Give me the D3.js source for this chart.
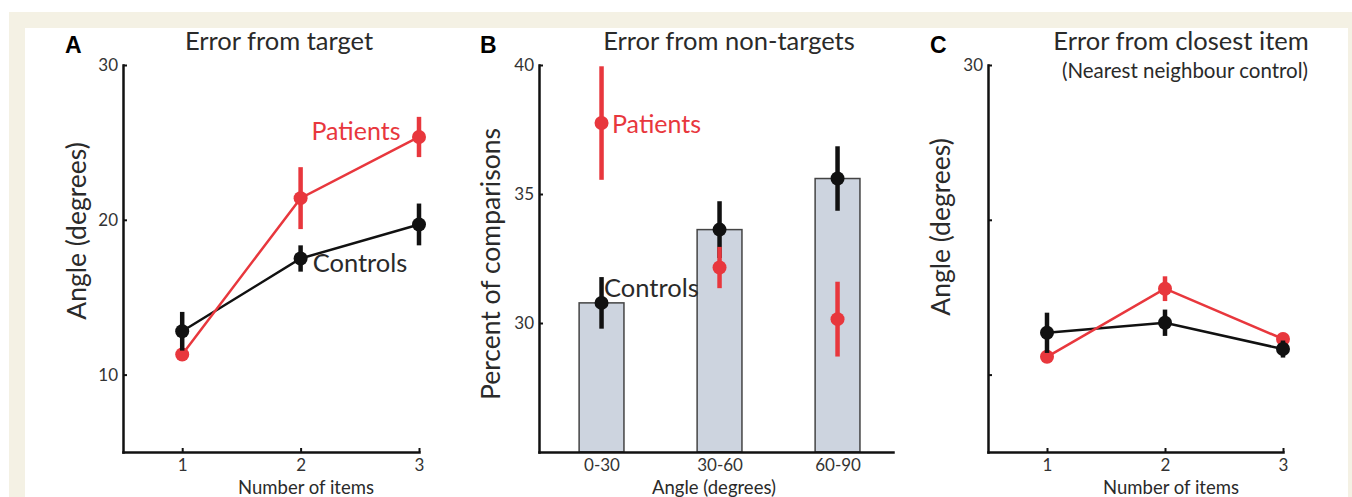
<!DOCTYPE html>
<html>
<head>
<meta charset="utf-8">
<script src="https://cdnjs.cloudflare.com/ajax/libs/d3/7.8.5/d3.min.js"></script>
<style>
  body { margin: 0; background: #fff; }
  svg text { font-family: Lato, "Open Sans", sans-serif; fill: #2a2a2a; }
</style>
</head>
<body>
<div id="chart"></div>
<script>
// Panel A - error from target
var itemCounts = [1, 2, 3];
var targetControls = [12.8, 17.5, 19.7];
var targetControlsErr = [1.25, 0.85, 1.35];
var targetPatients = [11.3, 21.4, 25.35];
var targetPatientsErr = [0.3, 2.0, 1.3];
var targetTicks = [10, 20, 30];

// Panel B - error from non-targets (percent of comparisons)
var angleBins = ["0-30", "30-60", "60-90"];
var nonTargetControls = [30.78, 33.62, 35.6];
var nonTargetControlsErr = [1.0, 1.1, 1.25];
var nonTargetPatients = [37.75, 32.15, 30.15];
var nonTargetPatientsErr = [2.2, 0.8, 1.45];
var nonTargetTicks = [30, 35, 40];

// Panel C - error from closest item
var closestControls = [12.7, 13.35, 11.65];
var closestControlsErr = [1.3, 0.85, 0.55];
var closestPatients = [11.15, 15.55, 12.3];
var closestPatientsErr = [0.3, 0.8, 0.4];
var closestTicks = [10, 20, 30];

var w = 1352;
var h = 497;
var red = "#e8373d";
var black = "#111";
var axisTop = 65;
var axisBottom = 452;

var svg = d3.select("#chart")
  .append("svg")
  .attr("width", w)
  .attr("height", h);

// cream frame round the figure
svg.append("rect").attr("x", 9).attr("y", 12).attr("width", w - 9).attr("height", h - 12).attr("fill", "#f4f1e4");
svg.append("rect").attr("x", 25).attr("y", 28).attr("width", 1323).attr("height", h - 28).attr("fill", "#fff");

function styleAxis(g) {
  g.select(".domain").attr("stroke", black).attr("stroke-width", 2.5).attr("stroke-linecap", "square");
  g.selectAll(".tick line").attr("stroke", black).attr("stroke-width", 2);
  g.selectAll(".tick text").attr("font-size", 17).style("fill", "#333");
}

function drawAxes(xScale, yScale, yTicks, yFormat, xTicks, xFormat, xTickSize) {
  var xAxis = d3.axisBottom(xScale)
    .tickValues(xTicks)
    .tickFormat(xFormat)
    .tickSizeInner(xTickSize)
    .tickSizeOuter(0)
    .tickPadding(7);
  var yAxis = d3.axisLeft(yScale)
    .tickValues(yTicks)
    .tickFormat(yFormat)
    .tickSizeInner(-4)
    .tickSizeOuter(0)
    .tickPadding(5);

  svg.append("g")
    .attr("transform", "translate(0," + axisBottom + ")")
    .call(xAxis)
    .call(styleAxis);
  svg.append("g")
    .attr("transform", "translate(" + xScale.range()[0] + ",0)")
    .call(yAxis)
    .call(styleAxis);
}

function drawSeries(xs, values, xScale, yScale, color) {
  var pts = values.map(function (v, i) {
    return { x: xs[i], y: v };
  });
  var g = svg.append("g");
  g.append("path")
    .datum(pts)
    .attr("fill", "none")
    .attr("stroke", color)
    .attr("stroke-width", 2.5)
    .attr("d", d3.line()
      .x(function (d) { return xScale(d.x); })
      .y(function (d) { return yScale(d.y); }));
  return g;
}

function drawMarkers(g, xs, values, errs, xScale, yScale, color) {
  var pts = values.map(function (v, i) {
    return { x: xs[i], y: v, e: errs[i] };
  });
  g.selectAll("line.err")
    .data(pts)
    .enter()
    .append("line")
    .attr("class", "err")
    .attr("x1", function (d) { return xScale(d.x); })
    .attr("x2", function (d) { return xScale(d.x); })
    .attr("y1", function (d) { return yScale(d.y - d.e); })
    .attr("y2", function (d) { return yScale(d.y + d.e); })
    .attr("stroke", color)
    .attr("stroke-width", 4.5);
  g.selectAll("circle")
    .data(pts)
    .enter()
    .append("circle")
    .attr("cx", function (d) { return xScale(d.x); })
    .attr("cy", function (d) { return yScale(d.y); })
    .attr("r", 7)
    .attr("fill", color);
}

function addText(x, y, str, size, opts) {
  opts = opts || {};
  var t = svg.append("text")
    .attr("x", x)
    .attr("y", y)
    .attr("font-size", size)
    .attr("text-anchor", opts.anchor || "middle")
    .text(str);
  if (opts.fill) t.style("fill", opts.fill);
  if (opts.bold) t.attr("font-weight", "bold").style("font-family", "'Liberation Sans', Arial, sans-serif").style("fill", "#000");
  if (opts.rotate) t.attr("transform", "rotate(-90," + x + "," + y + ")");
  return t;
}

// ---------- Panel A ----------
var xA = d3.scaleLinear().domain([0.5, 3]).range([123, 419]);
var yA = d3.scaleLinear().domain([5, 30]).range([axisBottom, axisTop]);
drawAxes(xA, yA, targetTicks, d3.format("d"), itemCounts, d3.format("d"), -4);

drawSeries(itemCounts, targetControls, xA, yA, black);
var gA2 = drawSeries(itemCounts, targetPatients, xA, yA, red);
drawMarkers(gA2, itemCounts, targetPatients, targetPatientsErr, xA, yA, red);
drawMarkers(svg.append("g"), itemCounts, targetControls, targetControlsErr, xA, yA, black);

addText(65, 53, "A", 23, { anchor: "start", bold: true });
addText(279, 50, "Error from target", 25.5);
addText(306, 494, "Number of items", 18.5);
addText(86, 231, "Angle (degrees)", 26.5, { rotate: true });
addText(356, 140, "Patients", 25, { fill: red });
addText(360, 272, "Controls", 25.5);

// ---------- Panel B ----------
var binIdx = [1, 2, 3];
var xB = d3.scaleLinear().domain([0.47, 3.47]).range([539, 893]);
var yB = d3.scaleLinear().domain([25, 40]).range([axisBottom, axisTop]);
var barHalf = 0.19;

svg.append("g")
  .selectAll("rect")
  .data(nonTargetControls)
  .enter()
  .append("rect")
  .attr("x", function (d, i) { return xB(binIdx[i] - barHalf); })
  .attr("width", xB(1 + barHalf) - xB(1 - barHalf))
  .attr("y", function (d) { return yB(d); })
  .attr("height", function (d) { return yB(25) - yB(d); })
  .attr("fill", "#cdd4df")
  .attr("stroke", "#444")
  .attr("stroke-width", 1.5);

drawAxes(xB, yB, nonTargetTicks, d3.format("d"), binIdx, function (d) { return angleBins[d - 1]; }, 0);

drawMarkers(svg.append("g"), binIdx, nonTargetControls, nonTargetControlsErr, xB, yB, black);
drawMarkers(svg.append("g"), binIdx, nonTargetPatients, nonTargetPatientsErr, xB, yB, red);

addText(480, 53, "B", 23, { anchor: "start", bold: true });
addText(729, 50, "Error from non-targets", 25.5);
addText(714, 494, "Angle (degrees)", 18.5);
addText(500, 264, "Percent of comparisons", 26.5, { rotate: true });
addText(612, 133, "Patients", 25, { anchor: "start", fill: red });
addText(604, 297, "Controls", 25.5, { anchor: "start" });

// ---------- Panel C ----------
var xC = d3.scaleLinear().domain([0.5, 3]).range([988, 1283]);
var yC = d3.scaleLinear().domain([5, 30]).range([axisBottom, axisTop]);
drawAxes(xC, yC, closestTicks, function (d) { return d === 30 ? "30" : ""; }, itemCounts, d3.format("d"), -4);

drawSeries(itemCounts, closestControls, xC, yC, black);
var gC2 = drawSeries(itemCounts, closestPatients, xC, yC, red);
drawMarkers(gC2, itemCounts, closestPatients, closestPatientsErr, xC, yC, red);
drawMarkers(svg.append("g"), itemCounts, closestControls, closestControlsErr, xC, yC, black);

addText(930, 53, "C", 23, { anchor: "start", bold: true });
addText(1181, 50, "Error from closest item", 25.5);
addText(1185, 78, "(Nearest neighbour control)", 20.5);
addText(1171, 494, "Number of items", 18.5);
addText(950, 227, "Angle (degrees)", 26.5, { rotate: true });
</script>
</body>
</html>
